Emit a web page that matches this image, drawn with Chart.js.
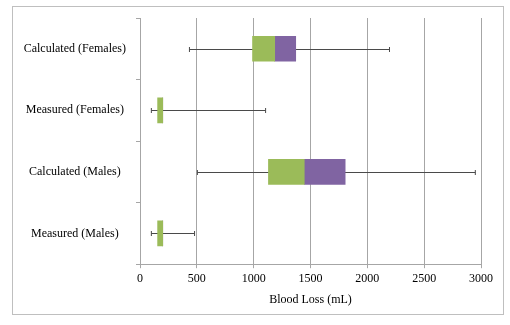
<!DOCTYPE html>
<html lang="en">
<head>
    <meta charset="UTF-8">
    <title>Blood Loss Box Plot</title>
    <script src="https://cdn.jsdelivr.net/npm/chart.js@4.4.0/dist/chart.umd.min.js"></script>
    <style>
        body {
            margin: 0;
            background: white;
        }
        .wrap {
            position: relative;
            width: 510px;
            height: 325px;
        }
        .frame {
            position: absolute;
            left: 12px;
            top: 6px;
            width: 490px;
            height: 307px;
            border: 1px solid #bfbfbf;
            pointer-events: none;
        }
    </style>
</head>
<body>
    <div class="wrap">
        <canvas id="boxChart"></canvas>
        <div class="frame"></div>
    </div>
    <script>
        // Box plot values (mL)
        const categories = ['Calculated (Females)', 'Measured (Females)', 'Calculated (Males)', 'Measured (Males)'];
        const minValues = [435, 100, 505, 100];
        const q1Values = [990, 155, 1130, 155];
        const medianValues = [1185, 200, 1445, 200];
        const q3Values = [1370, 200, 1805, 200];
        const maxValues = [2195, 1105, 2950, 480];
        const xMin = 0;
        const xMax = 3000;
        const xStep = 500;

        const serif = 'Liberation Serif';

        // whiskers drawn behind the boxes
        const whiskerPlugin = {
            id: 'whiskers',
            beforeDatasetsDraw(chart) {
                const ctx = chart.ctx;
                const xs = chart.scales.x;
                const ys = chart.scales.y;
                ctx.save();
                ctx.strokeStyle = '#4a4a4a';
                ctx.lineWidth = 1;
                categories.forEach((c, i) => {
                    const y = Math.round(ys.getPixelForValue(i)) + 0.5;
                    const x1 = xs.getPixelForValue(minValues[i]);
                    const x2 = xs.getPixelForValue(maxValues[i]);
                    ctx.beginPath();
                    ctx.moveTo(x1, y);
                    ctx.lineTo(x2, y);
                    ctx.moveTo(x1, y - 2.5);
                    ctx.lineTo(x1, y + 2.5);
                    ctx.moveTo(x2, y - 2.5);
                    ctx.lineTo(x2, y + 2.5);
                    ctx.stroke();
                });
                ctx.restore();
            }
        };

        const ctx = document.getElementById('boxChart').getContext('2d');
        new Chart(ctx, {
            type: 'bar',
            data: {
                labels: categories,
                datasets: [
                    {
                        label: 'base',
                        data: q1Values,
                        backgroundColor: 'rgba(0,0,0,0)'
                    },
                    {
                        label: 'Q1-Median',
                        data: medianValues.map((m, i) => m - q1Values[i]),
                        backgroundColor: '#9bbb59'
                    },
                    {
                        label: 'Median-Q3',
                        data: q3Values.map((q, i) => q - medianValues[i]),
                        backgroundColor: '#8064a2'
                    }
                ]
            },
            options: {
                indexAxis: 'y',
                responsive: true,
                maintainAspectRatio: false,
                animation: false,
                barThickness: 25,
                layout: {
                    padding: { left: 20, right: 29, top: 18, bottom: 18 }
                },
                plugins: {
                    legend: { display: false },
                    tooltip: { enabled: false }
                },
                scales: {
                    x: {
                        stacked: true,
                        min: xMin,
                        max: xMax,
                        ticks: {
                            stepSize: xStep,
                            color: '#000',
                            font: { family: serif, size: 12 },
                            padding: 3,
                            maxRotation: 0,
                            callback: function(value) {
                                return String(value);
                            }
                        },
                        grid: {
                            color: '#a6a6a6',
                            tickLength: 4
                        },
                        border: { color: '#a6a6a6' },
                        title: {
                            display: true,
                            text: 'Blood Loss (mL)',
                            color: '#000',
                            font: { family: serif, size: 12 },
                            padding: { top: 4, bottom: 0 }
                        }
                    },
                    y: {
                        stacked: true,
                        ticks: {
                            color: '#000',
                            font: { family: serif, size: 12 },
                            crossAlign: 'center',
                            padding: 10
                        },
                        grid: {
                            offset: true,
                            drawOnChartArea: false,
                            color: '#a6a6a6',
                            tickLength: 4
                        },
                        border: { color: '#a6a6a6' },
                        afterFit(scale) {
                            scale.width = 120;
                        }
                    }
                }
            },
            plugins: [whiskerPlugin]
        });
    </script>
</body>
</html>
